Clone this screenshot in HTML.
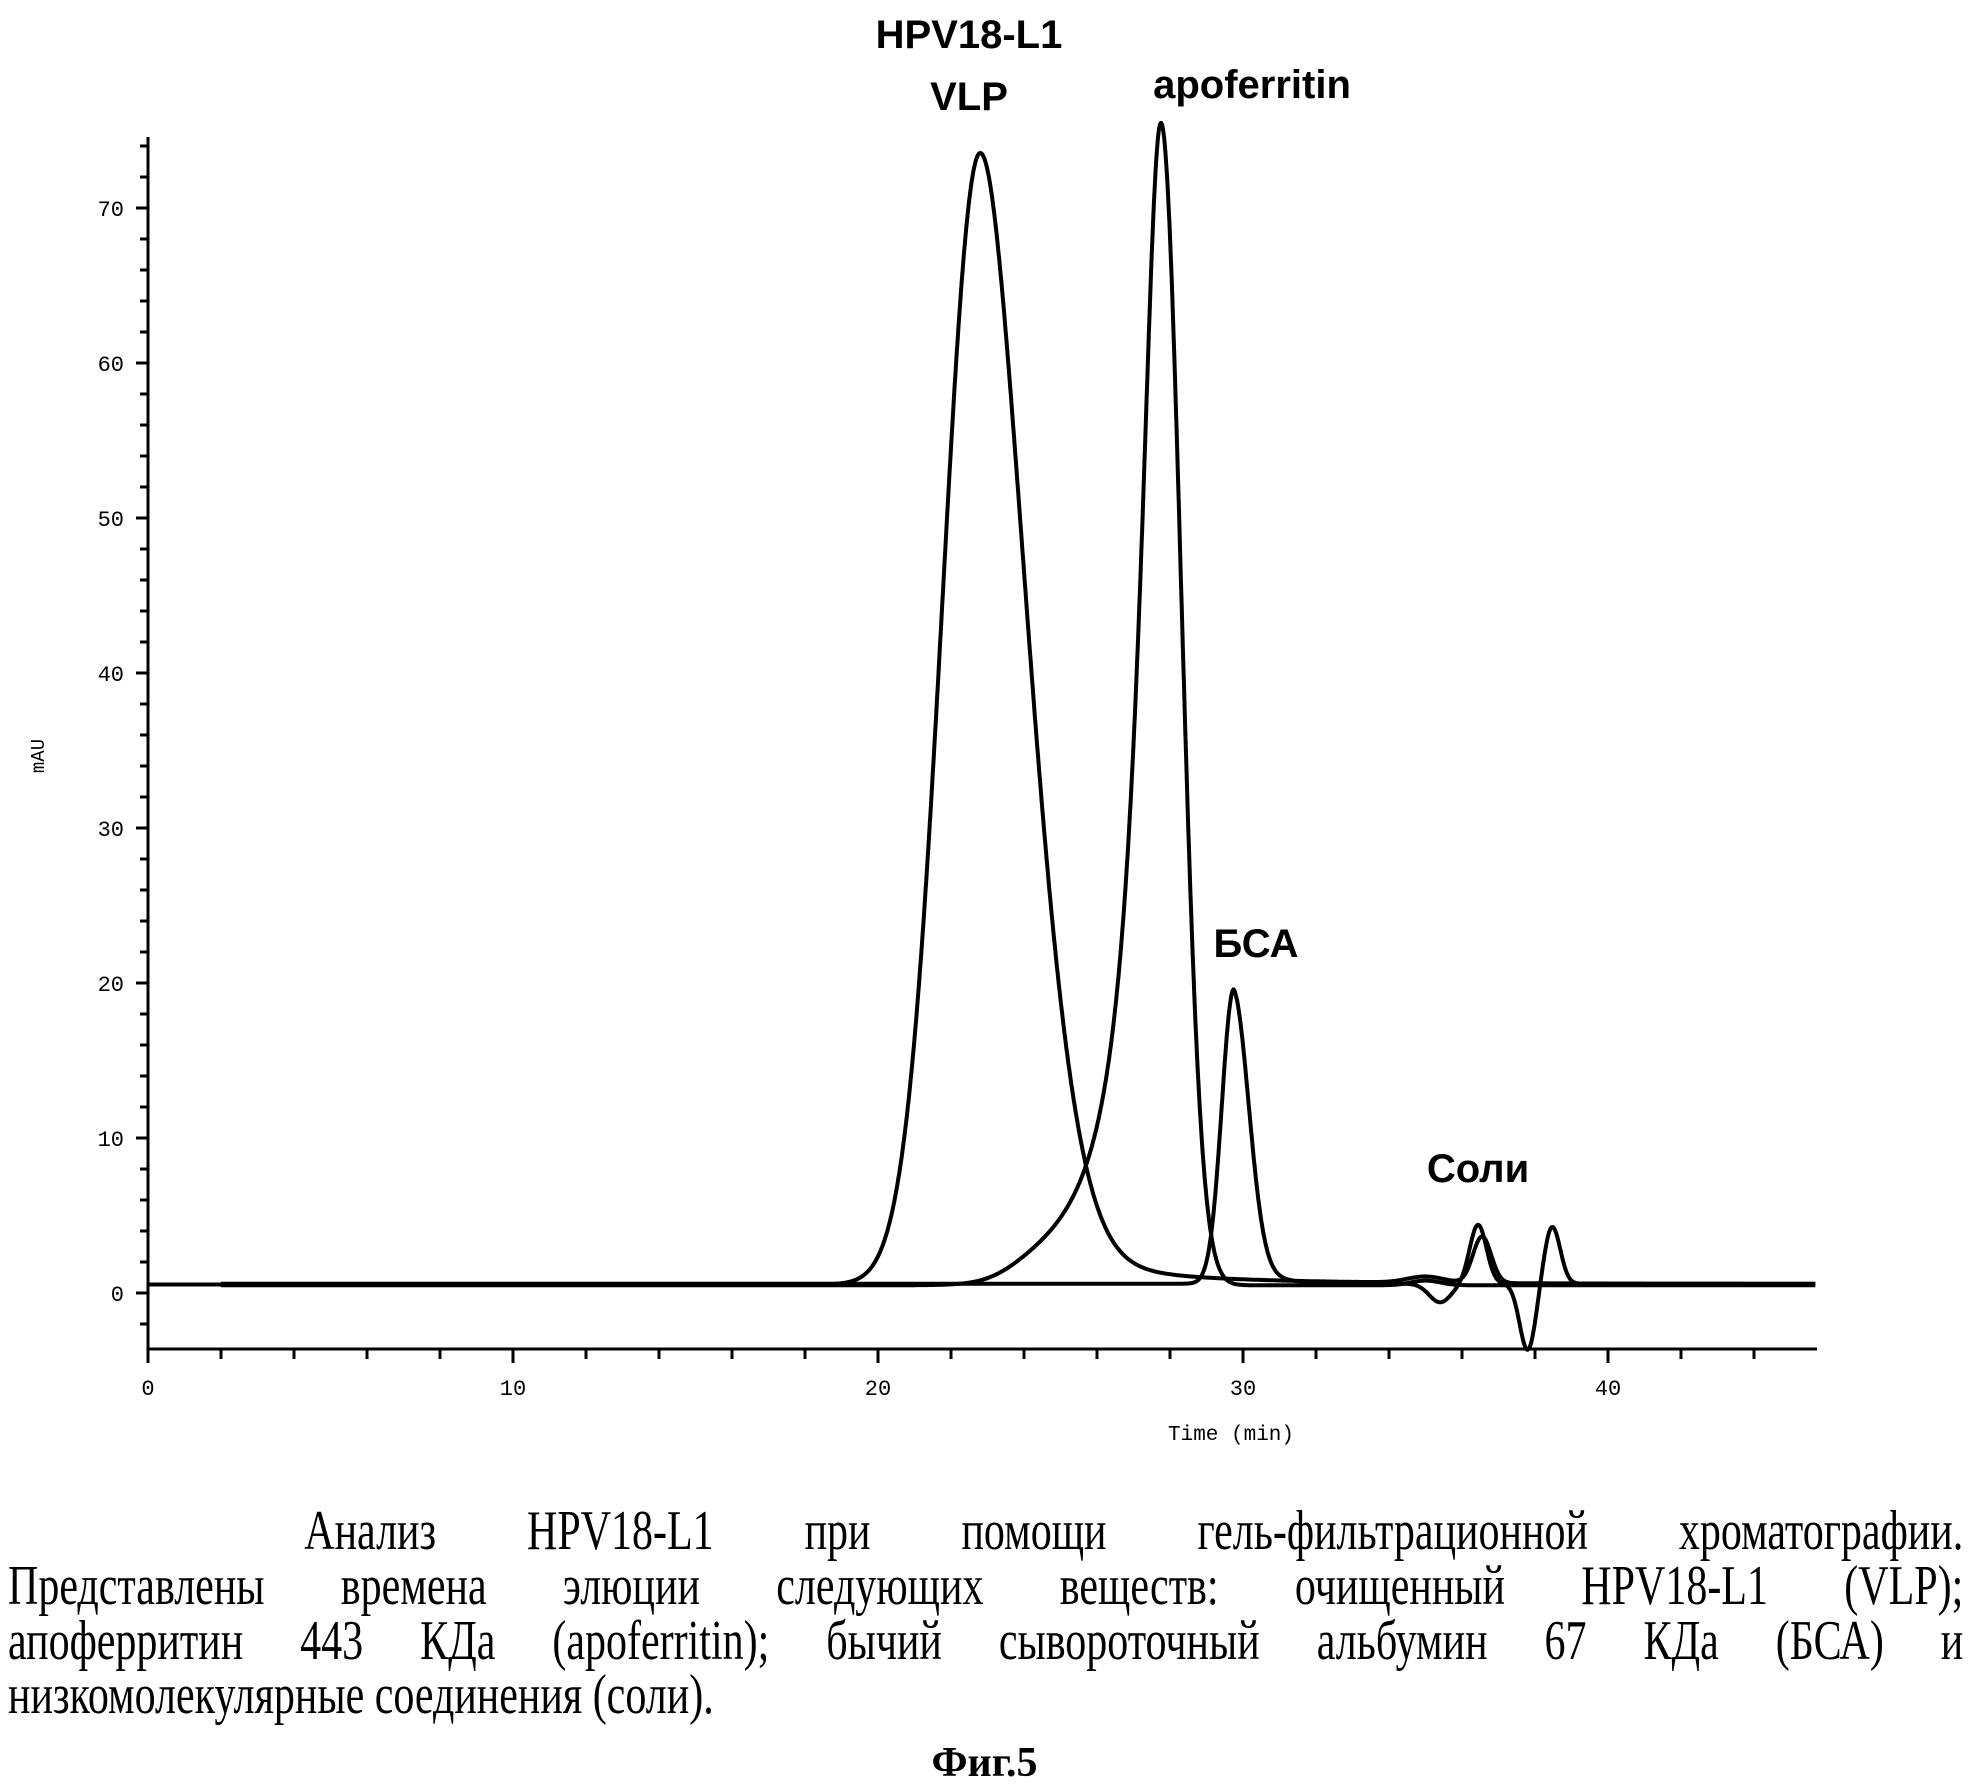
<!DOCTYPE html>
<html><head><meta charset="utf-8">
<style>
html,body{margin:0;padding:0;background:#fff;}
body{width:1969px;height:1782px;position:relative;overflow:hidden;}
.cap{position:absolute;left:8px;width:2607px;font-family:"Liberation Serif",serif;font-size:56px;text-align:justify;text-align-last:justify;white-space:nowrap;line-height:56px;color:#000;transform:scale(0.75,1);transform-origin:0 0;}
</style></head><body>
<svg id="s" width="1969" height="1480" style="position:absolute;left:0;top:0" xmlns="http://www.w3.org/2000/svg">
<g font-family="Liberation Sans, sans-serif" font-weight="bold" font-size="40" text-anchor="middle" fill="#000">
<text x="969" y="48">HPV18-L1</text>
<text x="969" y="110">VLP</text>
<text x="1252" y="98">apoferritin</text>
<text x="1256" y="957">БСА</text>
<text x="1478" y="1182">Соли</text>
</g>
<g id="ax" stroke="#000" fill="none"></g>
<g id="lab" font-family="Liberation Mono, monospace" font-size="22" fill="#000"></g>
<g id="cv" stroke="#000" fill="none" stroke-width="4" stroke-linejoin="round"></g>
<text x="0" y="0" transform="translate(44,756) rotate(-90)" font-family="Liberation Mono, monospace" font-size="19" text-anchor="middle">mAU</text>
<text x="1231" y="1440" font-family="Liberation Mono, monospace" font-size="21" text-anchor="middle">Time (min)</text>
</svg>
<div class="cap" style="top:1503px;padding-left:395px;width:2212px;">Анализ HPV18-L1 при помощи гель-фильтрационной хроматографии.</div>
<div class="cap" style="top:1558px;">Представлены времена элюции следующих веществ: очищенный HPV18-L1 (VLP);</div>
<div class="cap" style="top:1613px;">апоферритин 443 КДа (apoferritin); бычий сывороточный альбумин 67 КДа (БСА) и</div>
<div class="cap" style="top:1667px;width:auto;text-align-last:auto;">низкомолекулярные соединения (соли).</div>
<div style="position:absolute;left:0;width:1969px;top:1738px;text-align:center;font-family:'Liberation Serif',serif;font-weight:bold;font-size:42px;line-height:50px;">Фиг.5</div>
<script>
(function(){
var NS="http://www.w3.org/2000/svg";
var X0=148,PX=36.5,Y0=1293,PY=15.5;
function X(t){return X0+t*PX;} function Y(v){return Y0-v*PY;}
var ax=document.getElementById('ax'),lab=document.getElementById('lab'),cv=document.getElementById('cv');
function el(p,tag,a){var e=document.createElementNS(NS,tag);for(var k in a)e.setAttribute(k,a[k]);p.appendChild(e);return e;}
var ytop=137,ybot=1349,xright=1817;
el(ax,'line',{x1:X0,y1:ytop,x2:X0,y2:ybot+8,'stroke-width':3});
el(ax,'line',{x1:X0,y1:ybot,x2:xright,y2:ybot,'stroke-width':3});
for(var v=-2;v<=74;v+=2){var y=Y(v);var maj=v%10==0;
 el(ax,'line',{x1:X0-(maj?12:8),y1:y,x2:X0,y2:y,'stroke-width':3});
 if(maj){var t=el(lab,'text',{x:124,y:y+8,'text-anchor':'end'});t.textContent=v;}}
for(var m=0;m<=44;m+=2){var x=X(m);var maj=m%10==0;
 el(ax,'line',{x1:x,y1:ybot,x2:x,y2:ybot+(maj?14:10),'stroke-width':3});
 if(maj){var t=el(lab,'text',{x:x,y:1395,'text-anchor':'middle'});t.textContent=m;}}
function g(t,c,s){return Math.exp(-(t-c)*(t-c)/(2*s*s));}
function vlp(t){var d=t-22.8;if(d<0)return 73*g(t,22.8,1.03);return 73*(0.8*g(t,22.8,1.35)+0.2/(1+(d/1.1)*(d/1.1)));}
function apo(t){var d=t-27.75;if(d<0)return 75/(1+(d/0.7)*(d/0.7))/(1+Math.exp(-(d+4.3)/0.5));return 75*g(t,27.75,0.55);}
function bsa(t){var d=t-29.75;if(d<0)return 19*g(t,29.75,0.33);return 19*(0.85*g(t,29.75,0.42)+0.15*Math.exp(-d/0.6));}
var curves=[
 function(t){return 0.55+vlp(t)+0.4*g(t,35,0.5)+3.0*g(t,36.55,0.25);},
 function(t){return 0.5+apo(t)+0.3*g(t,35.0,0.4);},
 function(t){return 0.6+bsa(t)-1.2*g(t,35.4,0.3)+3.8*g(t,36.44,0.23)-4.3*g(t,37.8,0.22)+3.7*g(t,38.47,0.22);}
];
curves.forEach(function(f,i){var d='';var t0=(i==0?0:2);for(var t=t0;t<=45.7;t+=0.02){d+=(d?'L':'M')+X(t).toFixed(1)+','+Y(f(t)).toFixed(1);}
 el(cv,'path',{d:d});});
})();
</script>
</body></html>
